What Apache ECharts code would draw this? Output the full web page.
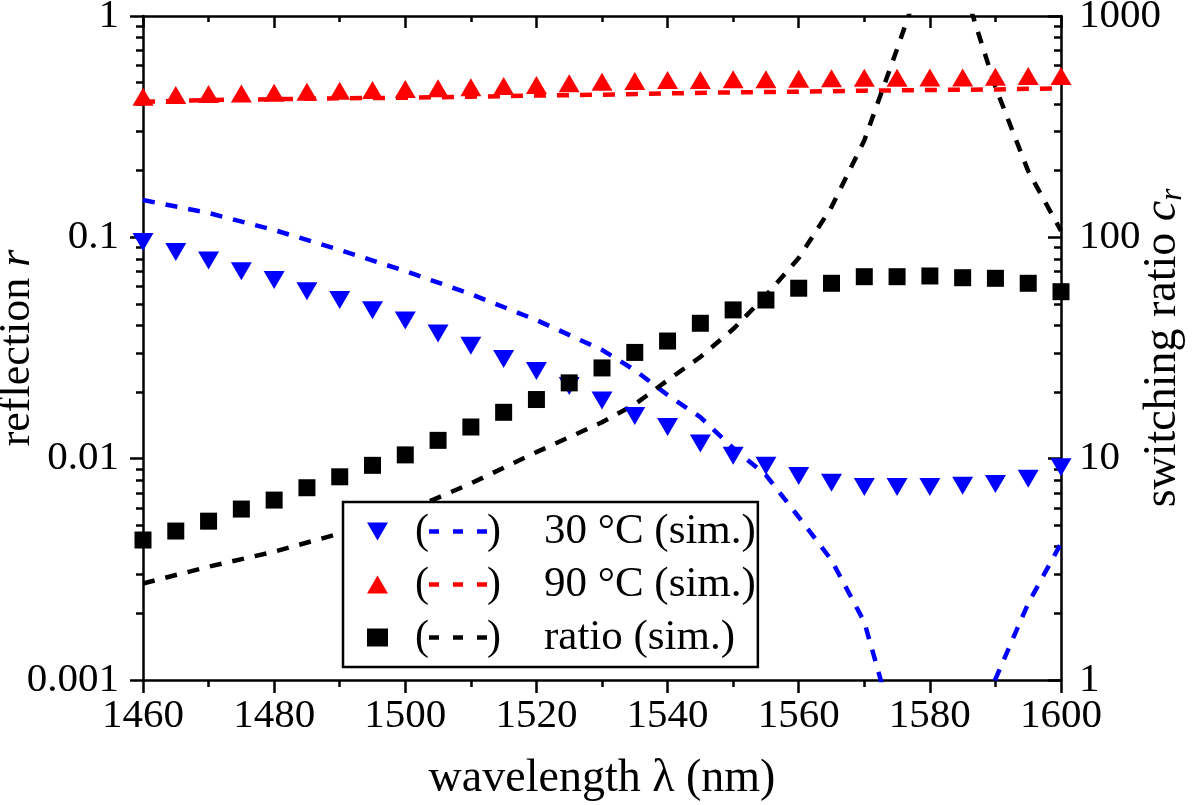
<!DOCTYPE html>
<html>
<head>
<meta charset="utf-8">
<script src="https://cdn.jsdelivr.net/npm/echarts@6/dist/echarts.min.js"></script>
<style>html,body{margin:0;padding:0;background:#fff}#c{width:1200px;height:805px}</style>
</head>
<body>
<div id="c"></div>
<script>
// ---- data ----
const wavelengths = [1460,1465,1470,1475,1480,1485,1490,1495,1500,1505,1510,1515,1520,1525,1530,1535,1540,1545,1550,1555,1560,1565,1570,1575,1580,1585,1590,1595,1600];
const r30Points = [0.0952,0.0858,0.0785,0.0702,0.0641,0.0570,0.0521,0.0468,0.0421,0.0368,0.0324,0.0282,0.0249,0.0213,0.0183,0.0156,0.0139,0.0117,0.0103,0.00929,0.00834,0.00778,0.00744,0.00744,0.00744,0.00755,0.00768,0.00811,0.00914];
const r90Points = [0.432,0.440,0.444,0.447,0.450,0.455,0.460,0.463,0.468,0.471,0.476,0.483,0.488,0.497,0.505,0.508,0.514,0.514,0.518,0.518,0.521,0.523,0.526,0.526,0.528,0.528,0.532,0.536,0.536];
const ratioPoints = [4.29,4.71,5.22,5.92,6.50,7.39,8.28,9.33,10.4,12.1,13.9,16.2,18.5,22.0,25.7,30.2,34.0,40.9,47.0,52.1,58.9,62.0,66.4,66.4,66.9,65.7,65.3,62.0,56.8];

const curve30Wl = [1460,1470,1480,1490,1500,1510,1520,1530,1535,1540,1545,1550,1555,1560,1565,1570,1575,1580,1585,1590,1595,1600];
const curve30 = [0.1474,0.1288,0.1079,0.0877,0.0704,0.0554,0.0423,0.0310,0.0251,0.0194,0.0154,0.01117,0.00843,0.00545,0.00348,0.00183,0.00055,0.00022,0.00039,0.00101,0.00222,0.00414];
const curve90Wl = [1460,1470,1480,1490,1500,1510,1520,1530,1540,1550,1560,1570,1580,1590,1600];
const curve90 = [0.410,0.417,0.421,0.425,0.427,0.432,0.437,0.441,0.447,0.452,0.455,0.460,0.463,0.466,0.471];
const curveRatioWl = [1460,1470,1480,1490,1500,1510,1520,1530,1535,1540,1545,1550,1555,1560,1565,1570,1575,1580,1585,1590,1595,1600];
const curveRatio = [2.73,3.25,3.80,4.59,5.75,7.73,10.7,14.6,17.6,22.6,28.8,38.5,54.6,80.6,137,274,709,1900,1400,478,199,107];

const leftMajorTicks = [0.001,0.01,0.1,1];
const rightMajorTicks = [1,10,100,1000];
const minorMantissas = [2,3,4,5,6,7,8,9];
const legendNames = ['30 °C','90 °C','ratio'];
const legendTexts = ['30 °C (sim.)','90 °C (sim.)','ratio (sim.)'];

// ---- helpers ----
function minorTicks(majors){
  const out = [];
  for (let i = 0; i < majors.length - 1; i++) {
    minorMantissas.forEach(m => out.push(+(majors[i] * m).toPrecision(6)));
  }
  return out;
}
const pairs = (xs, ys) => xs.map((x, i) => [x, ys[i]]);

const FONT = 'Liberation Serif';
const BLUE = '#0000ff', RED = '#ff0000', BLACK = '#000000';
const downTri = 'path://M0,0L20,0L10,17Z';
const AXW = 2.5;
const DASH = [12, 11];

function yAxisBase(extra){
  return Object.assign({
    type: 'log', logBase: 10,
    splitLine: {show: false},
    axisLine: {show: true, lineStyle: {color: BLACK, width: AXW}},
    axisTick: {show: true, lineStyle: {color: BLACK, width: AXW}},
    axisLabel: {show: false},
    minorTick: {show: false}
  }, extra);
}

const chart = echarts.init(document.getElementById('c'), null, {renderer: 'canvas'});

const option = {
  animation: false,
  backgroundColor: '#fff',
  grid: {left: 143, right: 139, top: 16, bottom: 125, containLabel: false, outerBoundsMode: 'none'},
  xAxis: [
    {
      type: 'value', min: 1460, max: 1600, interval: 20, position: 'bottom',
      splitLine: {show: false},
      axisLine: {lineStyle: {color: BLACK, width: AXW}},
      axisTick: {inside: false, length: 13, lineStyle: {color: BLACK, width: AXW}},
      minorTick: {show: true, splitNumber: 2, length: 7, lineStyle: {color: BLACK, width: AXW}},
      axisLabel: {color: BLACK, fontFamily: FONT, fontSize: 41, margin: 16, formatter: v => String(v)},
      name: 'wavelength λ (nm)', nameLocation: 'middle', nameGap: 76, nameMoveOverlap: false,
      nameTextStyle: {color: BLACK, fontFamily: FONT, fontSize: 46}
    },
    {
      type: 'value', min: 1460, max: 1600, interval: 20, position: 'top',
      splitLine: {show: false},
      axisLine: {lineStyle: {color: BLACK, width: AXW}},
      axisTick: {inside: true, length: 12, lineStyle: {color: BLACK, width: AXW}},
      minorTick: {show: true, splitNumber: 2, length: 6, lineStyle: {color: BLACK, width: AXW}},
      axisLabel: {show: false}
    }
  ],
  yAxis: [
    yAxisBase({
      min: 0.001, max: 1, position: 'left',
      axisTick: {show: true, inside: false, length: 13, lineStyle: {color: BLACK, width: AXW}, customValues: leftMajorTicks},
      axisLabel: {show: true, color: BLACK, fontFamily: FONT, fontSize: 41, margin: 24, customValues: leftMajorTicks,
        formatter: v => String(+(+v).toPrecision(3))},
      name: '{a|reflection }{i|r}', nameLocation: 'middle', nameGap: 104, nameMoveOverlap: false,
      nameTextStyle: {color: BLACK, fontFamily: FONT, fontSize: 44,
        rich: {a: {fontFamily: FONT, fontSize: 44, color: BLACK}, i: {fontFamily: FONT, fontSize: 44, fontStyle: 'italic', color: BLACK}}}
    }),
    yAxisBase({
      min: 1, max: 1000, position: 'right',
      axisTick: {show: true, inside: true, length: 13, lineStyle: {color: BLACK, width: AXW}, customValues: rightMajorTicks},
      axisLabel: {show: true, color: BLACK, fontFamily: FONT, fontSize: 41, margin: 18, customValues: rightMajorTicks,
        formatter: v => String(Math.round(+v))},
      name: '{a|switching ratio }{i|c}{s|r}', nameLocation: 'middle', nameGap: 77, nameMoveOverlap: false,
      nameTextStyle: {color: BLACK, fontFamily: FONT, fontSize: 46, lineHeight: 50,
        rich: {
          a: {fontFamily: FONT, fontSize: 46, color: BLACK, lineHeight: 50},
          i: {fontFamily: FONT, fontSize: 46, fontStyle: 'italic', color: BLACK, lineHeight: 50},
          s: {fontFamily: FONT, fontSize: 31, fontStyle: 'italic', color: BLACK, lineHeight: 30, verticalAlign: 'bottom'}
        }}
    }),
    yAxisBase({
      min: 0.001, max: 1, position: 'left',
      axisLine: {show: false},
      axisTick: {show: true, inside: false, length: 7, lineStyle: {color: BLACK, width: AXW}, customValues: minorTicks(leftMajorTicks)}
    }),
    yAxisBase({
      min: 1, max: 1000, position: 'right',
      axisLine: {show: false},
      axisTick: {show: true, inside: true, length: 7, lineStyle: {color: BLACK, width: AXW}, customValues: minorTicks(rightMajorTicks)}
    })
  ],
  legend: {
    orient: 'vertical', left: 343, top: 502,
    data: [
      {name: legendNames[0], icon: downTri},
      {name: legendNames[1], icon: 'triangle'},
      {name: legendNames[2], icon: 'rect'}
    ],
    itemWidth: 21, itemHeight: 18, itemGap: 0,
    padding: [3, 2, 3, 24],
    backgroundColor: '#fff', borderColor: BLACK, borderWidth: 2.5, borderRadius: 0,
    selectedMode: false,
    textStyle: {
      fontFamily: FONT, fontSize: 42, color: BLACK, lineHeight: 53,
      rich: {
        sp: {width: 22},
        p: {fontFamily: FONT, fontSize: 42, color: BLACK},
        db: {width: 10, height: 4.5, backgroundColor: BLUE},
        dr: {width: 10, height: 4.5, backgroundColor: RED},
        dk: {width: 10, height: 4.5, backgroundColor: BLACK},
        g: {width: 14},
        sp2: {width: 43},
        t: {fontFamily: FONT, fontSize: 43, color: BLACK}
      }
    },
    formatter: function(name){
      const i = legendNames.indexOf(name);
      const d = ['db','dr','dk'][i];
      const dash = `{${d}| }`;
      return `{sp| }{p|(}${dash}{g| }${dash}{g| }${dash}{p|)}{sp2| }{t|${legendTexts[i]}}`;
    }
  },
  series: [
    {name: '30 °C curve', type: 'line', xAxisIndex: 0, yAxisIndex: 0, data: pairs(curve30Wl, curve30),
      showSymbol: false, symbol: 'none', smooth: false, lineStyle: {color: BLUE, width: 4.5, type: DASH}, z: 2},
    {name: '90 °C curve', type: 'line', xAxisIndex: 0, yAxisIndex: 0, data: pairs(curve90Wl, curve90),
      showSymbol: false, symbol: 'none', smooth: false, lineStyle: {color: RED, width: 4.5, type: DASH}, z: 2},
    {name: 'ratio curve', type: 'line', xAxisIndex: 0, yAxisIndex: 1, data: pairs(curveRatioWl, curveRatio),
      showSymbol: false, symbol: 'none', smooth: false, lineStyle: {color: BLACK, width: 4.5, type: DASH}, z: 2},
    {name: legendNames[0], type: 'scatter', xAxisIndex: 0, yAxisIndex: 0, data: pairs(wavelengths, r30Points),
      symbol: downTri, symbolSize: [21, 18], itemStyle: {color: BLUE, opacity: 1}, z: 3},
    {name: legendNames[1], type: 'scatter', xAxisIndex: 0, yAxisIndex: 0, data: pairs(wavelengths, r90Points),
      symbol: 'triangle', symbolSize: [21, 18], itemStyle: {color: RED, opacity: 1}, z: 3},
    {name: legendNames[2], type: 'scatter', xAxisIndex: 0, yAxisIndex: 1, data: pairs(wavelengths, ratioPoints),
      symbol: 'rect', symbolSize: 17, itemStyle: {color: BLACK, opacity: 1}, z: 4}
  ]
};
chart.setOption(option);
</script>
</body>
</html>
